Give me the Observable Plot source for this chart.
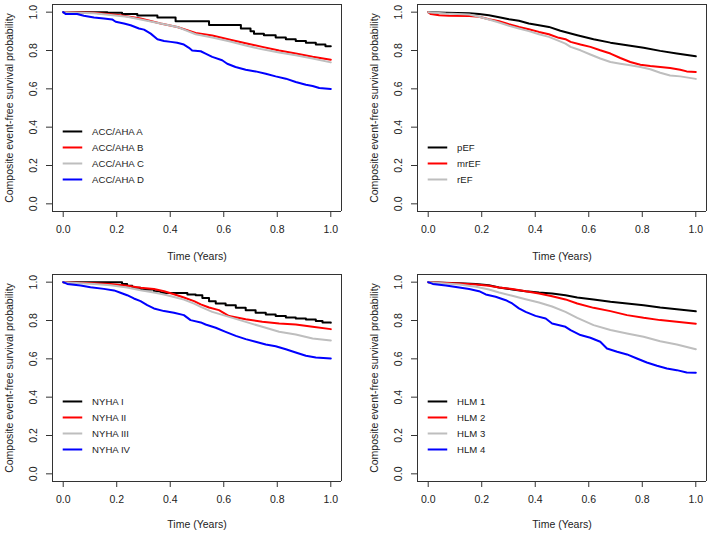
<!DOCTYPE html>
<html>
<head>
<meta charset="utf-8">
<script src="https://cdn.jsdelivr.net/npm/d3@7"></script>
<script src="https://cdn.jsdelivr.net/npm/@observablehq/plot@0.6"></script>
<style>
  html, body { margin: 0; padding: 0; background: #fff; }
  #root { position: relative; width: 709px; height: 533px; overflow: hidden; background: #fff; }
  .panel { position: absolute; }
</style>
</head>
<body>
<div id="root"></div>
<script>
// ---- tick labels / axis text ----
const axisTicks = [0, 0.2, 0.4, 0.6, 0.8, 1.0];
const axisLimits = [-0.04, 1.04];
const xTitle = "Time (Years)";
const yTitle = "Composite event-free survival probability";

// ---- Panel 1: ACC/AHA stage ----
const accLabels = ["ACC/AHA A", "ACC/AHA B", "ACC/AHA C", "ACC/AHA D"];
const accA = [[0,1.0],[0.165,0.997],[0.22,0.99],[0.277,0.983],[0.352,0.972],[0.42,0.953],[0.545,0.933],[0.664,0.915],[0.70,0.90],[0.713,0.888],[0.75,0.88],[0.794,0.868],[0.832,0.859],[0.869,0.85],[0.907,0.84],[0.944,0.831],[0.98,0.822],[1.0,0.822]];
const accB = [[0,1.0],[0.115,0.997],[0.214,0.984],[0.289,0.967],[0.364,0.941],[0.426,0.923],[0.495,0.892],[0.557,0.878],[0.62,0.857],[0.682,0.838],[0.744,0.819],[0.807,0.80],[0.869,0.784],[0.932,0.767],[1.0,0.752]];
const accC = [[0,1.0],[0.115,0.994],[0.239,0.976],[0.364,0.941],[0.426,0.923],[0.495,0.885],[0.557,0.868],[0.62,0.848],[0.682,0.826],[0.744,0.806],[0.807,0.79],[0.869,0.775],[0.932,0.758],[1.0,0.738]];
const accD = [[0,1.0],[0.01,0.99],[0.052,0.99],[0.077,0.981],[0.115,0.972],[0.152,0.967],[0.183,0.962],[0.196,0.95],[0.227,0.941],[0.252,0.932],[0.283,0.915],[0.302,0.909],[0.327,0.888],[0.352,0.859],[0.377,0.85],[0.402,0.845],[0.426,0.84],[0.451,0.831],[0.47,0.814],[0.482,0.80],[0.514,0.796],[0.532,0.784],[0.557,0.767],[0.594,0.749],[0.613,0.731],[0.644,0.714],[0.682,0.70],[0.719,0.691],[0.757,0.679],[0.794,0.665],[0.832,0.653],[0.869,0.636],[0.907,0.621],[0.932,0.615],[0.957,0.604],[1.0,0.599]];

// ---- Panel 2: ejection fraction ----
const efLabels = ["pEF", "mrEF", "rEF"];
const efP = [[0,1.0],[0.066,0.997],[0.153,0.995],[0.19,0.99],[0.227,0.984],[0.265,0.974],[0.302,0.963],[0.339,0.955],[0.376,0.941],[0.414,0.932],[0.451,0.923],[0.494,0.903],[0.557,0.88],[0.618,0.859],[0.681,0.841],[0.743,0.827],[0.805,0.814],[0.867,0.798],[0.929,0.784],[1.0,0.77]];
const efMr = [[0,1.0],[0.01,0.99],[0.041,0.984],[0.078,0.981],[0.153,0.98],[0.19,0.976],[0.227,0.963],[0.265,0.953],[0.302,0.937],[0.339,0.923],[0.376,0.911],[0.414,0.897],[0.451,0.885],[0.488,0.866],[0.513,0.859],[0.532,0.845],[0.569,0.831],[0.606,0.819],[0.643,0.801],[0.681,0.784],[0.718,0.761],[0.755,0.74],[0.793,0.726],[0.83,0.719],[0.867,0.714],[0.904,0.709],[0.942,0.70],[0.966,0.691],[1.0,0.688]];
const efR = [[0,1.0],[0.066,0.993],[0.153,0.988],[0.19,0.976],[0.227,0.962],[0.265,0.946],[0.302,0.929],[0.339,0.915],[0.376,0.901],[0.414,0.885],[0.451,0.871],[0.488,0.85],[0.513,0.836],[0.532,0.819],[0.569,0.801],[0.606,0.779],[0.643,0.758],[0.681,0.74],[0.718,0.731],[0.755,0.723],[0.793,0.714],[0.83,0.702],[0.867,0.684],[0.904,0.67],[0.942,0.665],[1.0,0.652]];

// ---- Panel 3: NYHA class ----
const nyhaLabels = ["NYHA I", "NYHA II", "NYHA III", "NYHA IV"];
const nyha1 = [[0,1.0],[0.22,0.998],[0.22,0.99],[0.239,0.981],[0.258,0.971],[0.289,0.962],[0.339,0.953],[0.364,0.943],[0.464,0.936],[0.495,0.932],[0.52,0.918],[0.545,0.901],[0.57,0.889],[0.607,0.88],[0.645,0.866],[0.682,0.854],[0.719,0.84],[0.757,0.831],[0.794,0.824],[0.832,0.816],[0.869,0.81],[0.907,0.805],[0.944,0.797],[0.969,0.79],[1.0,0.788]];
const nyha2 = [[0,1.0],[0.115,0.995],[0.177,0.99],[0.239,0.981],[0.289,0.971],[0.339,0.964],[0.377,0.953],[0.414,0.937],[0.451,0.92],[0.489,0.901],[0.514,0.884],[0.545,0.868],[0.582,0.854],[0.62,0.823],[0.682,0.807],[0.744,0.793],[0.807,0.784],[0.869,0.779],[0.932,0.767],[1.0,0.755]];
const nyha3 = [[0,1.0],[0.115,0.99],[0.177,0.984],[0.239,0.972],[0.289,0.958],[0.339,0.946],[0.377,0.936],[0.414,0.923],[0.451,0.909],[0.489,0.888],[0.514,0.871],[0.557,0.845],[0.62,0.819],[0.682,0.793],[0.744,0.767],[0.807,0.741],[0.869,0.727],[0.932,0.706],[1.0,0.696]];
const nyha4 = [[0,1.0],[0.015,0.991],[0.065,0.983],[0.102,0.974],[0.152,0.965],[0.19,0.957],[0.214,0.945],[0.239,0.932],[0.264,0.915],[0.289,0.901],[0.314,0.88],[0.339,0.863],[0.377,0.849],[0.414,0.84],[0.451,0.828],[0.476,0.802],[0.514,0.79],[0.532,0.779],[0.57,0.762],[0.607,0.741],[0.645,0.72],[0.682,0.703],[0.719,0.689],[0.757,0.675],[0.794,0.666],[0.832,0.65],[0.869,0.633],[0.907,0.616],[0.944,0.607],[1.0,0.602]];

// ---- Panel 4: HLM ----
const hlmLabels = ["HLM 1", "HLM 2", "HLM 3", "HLM 4"];
const hlm1 = [[0,1.0],[0.116,0.995],[0.178,0.99],[0.227,0.984],[0.265,0.972],[0.314,0.962],[0.364,0.953],[0.414,0.946],[0.463,0.941],[0.513,0.932],[0.557,0.92],[0.618,0.91],[0.681,0.898],[0.743,0.889],[0.805,0.88],[0.867,0.868],[0.929,0.859],[1.0,0.848]];
const hlm2 = [[0,1.0],[0.116,0.993],[0.178,0.988],[0.227,0.981],[0.265,0.972],[0.314,0.964],[0.364,0.953],[0.414,0.941],[0.463,0.927],[0.513,0.91],[0.557,0.889],[0.618,0.866],[0.681,0.849],[0.743,0.828],[0.805,0.814],[0.867,0.802],[0.929,0.793],[1.0,0.783]];
const hlm3 = [[0,1.0],[0.116,0.988],[0.178,0.976],[0.227,0.962],[0.265,0.946],[0.314,0.929],[0.364,0.911],[0.414,0.894],[0.463,0.873],[0.513,0.845],[0.557,0.814],[0.618,0.776],[0.681,0.75],[0.743,0.732],[0.805,0.715],[0.867,0.692],[0.929,0.675],[1.0,0.65]];
const hlm4 = [[0,1.0],[0.017,0.991],[0.066,0.983],[0.116,0.972],[0.153,0.964],[0.19,0.953],[0.215,0.936],[0.252,0.924],[0.29,0.906],[0.314,0.889],[0.339,0.863],[0.364,0.845],[0.401,0.824],[0.439,0.81],[0.463,0.784],[0.513,0.767],[0.532,0.75],[0.569,0.724],[0.606,0.71],[0.643,0.689],[0.668,0.654],[0.706,0.637],[0.743,0.623],[0.78,0.602],[0.817,0.581],[0.855,0.564],[0.892,0.55],[0.929,0.541],[0.966,0.529],[1.0,0.528]];

const seriesColors = ["#000000", "#ff0000", "#bebebe", "#0000ff"];

const fmt = d3.format(".1f");
const font = "'Liberation Sans', Arial, Helvetica, sans-serif";

function panel(series, labels, curves, opts) {
  const n = series.length;
  const marks = [
    Plot.ruleX(axisLimits, {stroke: "#333", strokeWidth: 1}),
    Plot.ruleY(axisLimits, {stroke: "#333", strokeWidth: 1}),
    Plot.axisX(axisTicks, {anchor: "bottom", tickSize: 6, tickPadding: 8, tickFormat: fmt, label: null, stroke: "#333", fill: "#222", fontSize: 10.5}),
    Plot.axisY(axisTicks, {anchor: "left", tickSize: 6, tickFormat: () => "", label: null, stroke: "#333"}),
    Plot.text(axisTicks, {y: d => d, text: d => fmt(d), frameAnchor: "left", dx: -19, rotate: -90, textAnchor: "middle", lineAnchor: "middle", fontSize: 10.5, fill: "#222"}),
    Plot.text([xTitle], {frameAnchor: "bottom", dy: opts.xTitleDy, textAnchor: "middle", fontSize: 10.5, fill: "#222", lineAnchor: "middle"}),
    Plot.text([yTitle], {frameAnchor: "left", dx: -43, rotate: -90, textAnchor: "middle", fontSize: 10.5, fill: "#222", lineAnchor: "middle"})
  ];
  series.forEach((s, i) => {
    marks.push(Plot.line(s, {x: d => d[0], y: d => d[1], stroke: seriesColors[i], strokeWidth: 2, curve: curves[i]}));
  });
  const legendBase = 0.127, legendStep = 0.0835;
  labels.forEach((lab, i) => {
    const ly = legendBase + (n - 1 - i) * legendStep;
    marks.push(Plot.ruleY([ly], {x1: 0, x2: 0.073, stroke: seriesColors[i], strokeWidth: 2}));
    marks.push(Plot.text([lab], {x: 0.108, y: ly, textAnchor: "start", lineAnchor: "middle", fontSize: 9.6, fill: "#222"}));
  });
  return Plot.plot({
    width: opts.width,
    height: 266,
    marginLeft: 52,
    marginRight: opts.marginRight,
    marginTop: 4,
    marginBottom: 55,
    x: {domain: axisLimits},
    y: {domain: axisLimits},
    style: {fontFamily: font, background: "transparent", overflow: "visible"},
    marks
  });
}

const root = document.getElementById("root");
function place(el, left, top) {
  const d = document.createElement("div");
  d.className = "panel";
  d.style.left = left + "px";
  d.style.top = top + "px";
  d.appendChild(el);
  root.appendChild(d);
}

place(panel([accA, accB, accC, accD], accLabels, ["step-after", "linear", "linear", "linear"], {width: 354, marginRight: 13, xTitleDy: 45}), 0, 0);
place(panel([efP, efMr, efR], efLabels, ["linear", "linear", "linear"], {width: 344, marginRight: 3, xTitleDy: 45}), 365, 0);
place(panel([nyha1, nyha2, nyha3, nyha4], nyhaLabels, ["step-after", "linear", "linear", "linear"], {width: 354, marginRight: 13, xTitleDy: 43.5}), 0, 270);
place(panel([hlm1, hlm2, hlm3, hlm4], hlmLabels, ["linear", "linear", "linear", "linear"], {width: 344, marginRight: 3, xTitleDy: 43.5}), 365, 270);
</script>
</body>
</html>
